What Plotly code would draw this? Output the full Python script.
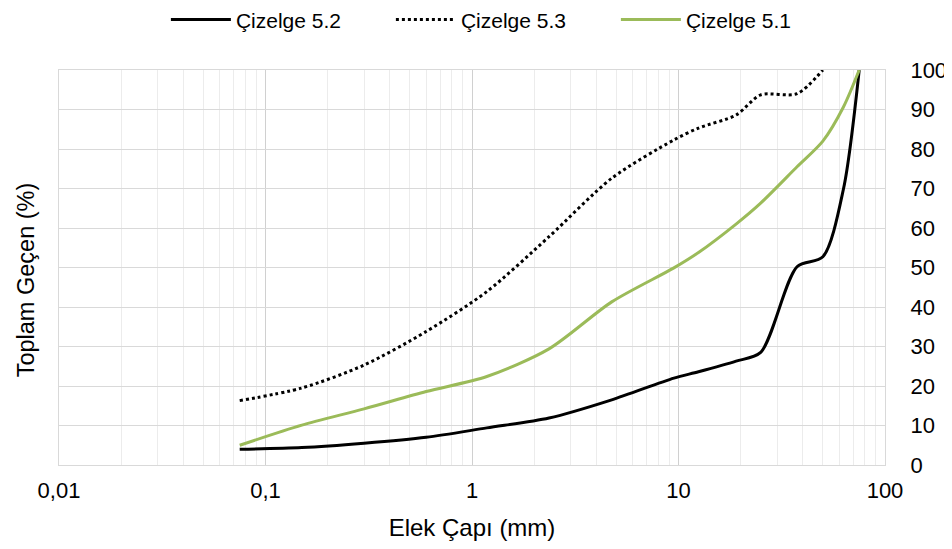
import plotly.graph_objects as go

# elek açıklıkları (mm)
sieve = [0.075, 0.15, 0.3, 0.6, 1.18, 2.36, 4.75, 9.5, 12.5, 19, 25, 37.5, 50, 63, 75]
sieve_53 = [0.075, 0.15, 0.3, 0.6, 1.18, 2.36, 4.75, 9.5, 12.5, 19, 25, 37.5, 50]

cizelge_52 = [4, 4.4, 5.5, 7, 9.4, 11.9, 16.5, 22, 23.6, 26.3, 28.5, 50.2, 52.7, 70, 100]
cizelge_53 = [16.3, 19.5, 25.3, 33.8, 43.9, 57.8, 72.6, 82.3, 85.3, 88.6, 93.7, 94, 100]
cizelge_51 = [5, 10.1, 14.2, 18.6, 22.4, 29.4, 41.3, 49.9, 53.8, 61, 66.3, 75.5, 82, 90.7, 100]

x_ticks = [0.01, 0.1, 1, 10, 100]
x_labels = ["0,01", "0,1", "1", "10", "100"]
minor_vals = [m * 10 ** e for e in range(-2, 2) for m in range(2, 10)]

font = "Liberation Sans, Arial, sans-serif"

fig = go.Figure()
fig.add_trace(go.Scatter(x=sieve, y=cizelge_52, name="Çizelge 5.2", mode="lines",
                         line=dict(color="black", width=3, shape="spline", smoothing=0.8)))
fig.add_trace(go.Scatter(x=sieve_53, y=cizelge_53, name="Çizelge 5.3", mode="lines",
                         line=dict(color="black", width=3, dash="dot", shape="spline", smoothing=0.8)))
fig.add_trace(go.Scatter(x=sieve, y=cizelge_51, name="Çizelge 5.1", mode="lines",
                         line=dict(color="#9bbb59", width=3, shape="spline", smoothing=0.8)))

# sayfa gövdesi 8px kaydırıyor, o yüzden boyutlar biraz küçük
fig.update_layout(
    width=944, height=541,
    margin=dict(l=51, r=67, t=62, b=84, autoexpand=False),
    plot_bgcolor="white", paper_bgcolor="white",
    font=dict(family=font, size=22, color="black"),
    legend=dict(orientation="h", x=0.538, xanchor="center", y=1.127, yanchor="middle",
                font=dict(size=21), entrywidth=150, itemwidth=60),
    showlegend=True,
)

fig.update_xaxes(
    type="log", range=[-2, 2], automargin=False,
    tickmode="array", tickvals=x_ticks, ticktext=x_labels,
    showgrid=True, gridcolor="#d0d0d0", gridwidth=1,
    minor=dict(tickmode="array", tickvals=minor_vals, showgrid=True, gridcolor="#ececec", gridwidth=1),
    showline=True, linecolor="#d9d9d9", mirror=True, zeroline=False,
    ticks="", ticklabelstandoff=6,
    title=dict(text="Elek Çapı (mm)", font=dict(size=24), standoff=16),
)
fig.update_yaxes(
    range=[0, 100], dtick=10, side="right", automargin=False,
    showgrid=True, gridcolor="#d9d9d9", gridwidth=1,
    showline=True, linecolor="#d9d9d9", mirror=True, zeroline=False,
    ticks="", ticklabelstandoff=20,
)
fig.add_annotation(text="Toplam Geçen (%)", textangle=-90, xref="paper", yref="paper",
                   x=-0.04, y=0.47, xanchor="center", yanchor="middle", showarrow=False,
                   font=dict(size=23.5))

fig.write_html("out.html")
